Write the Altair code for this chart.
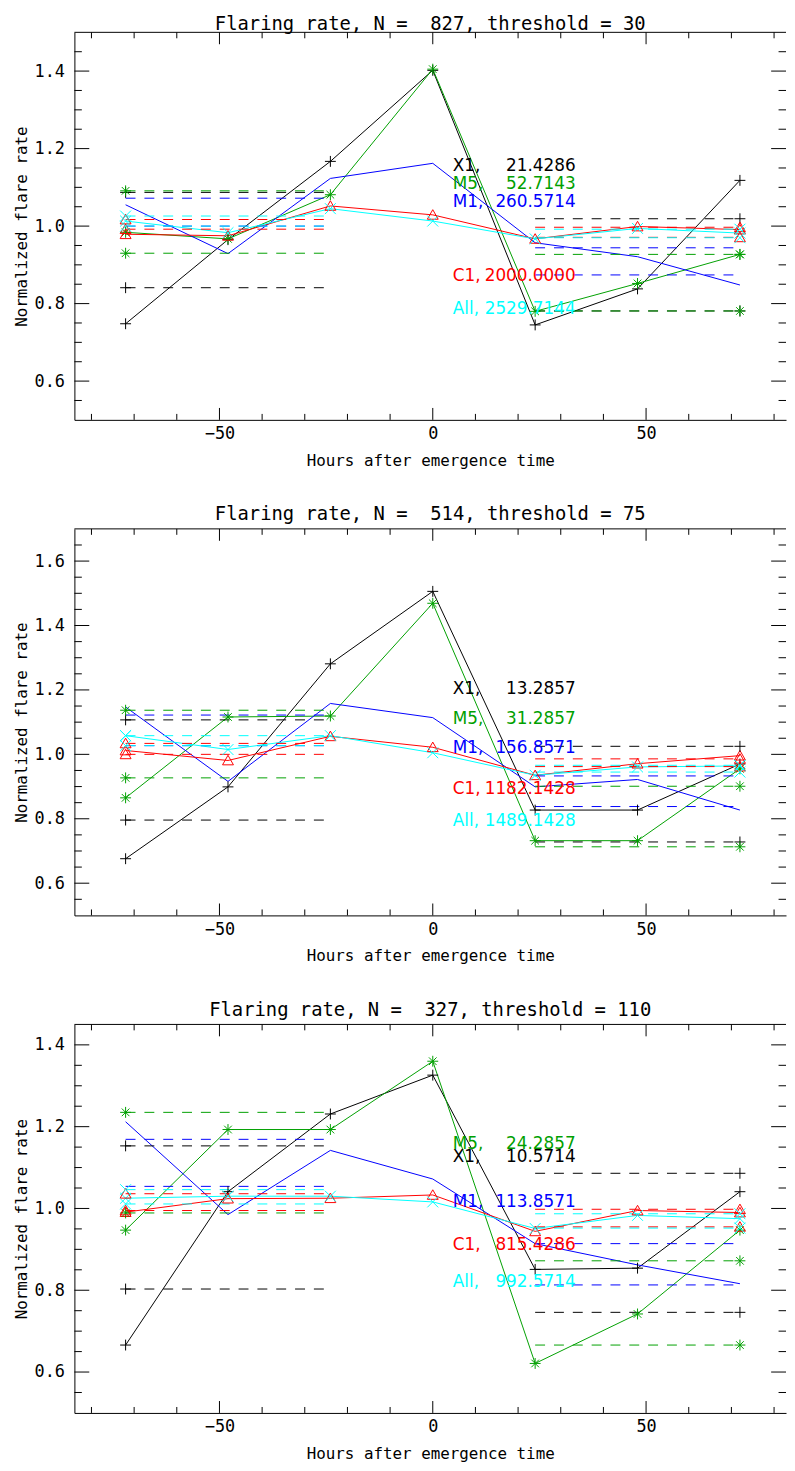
import altair as alt
import pandas as pd

# ---------------- data ----------------
hours = [-72, -48, -24, 0, 24, 48, 72]
series_names = ["X1", "M5", "M1", "C1", "All"]
series_colors = ["#000000", "#00a000", "#0000ff", "#ff0000", "#00ffff"]
label_names = ["X1,", "M5,", "M1,", "C1,", "All,"]
pre_span = [-72, -24]
post_span = [24, 72]

# Panel 1
p1_title = "Flaring rate, N =\u00a0\u00a0827, threshold = 30"
p1_X1 = [0.748, 0.965, 1.167, 1.402, 0.745, 0.838, 1.118]
p1_M5 = [0.984, 0.967, 1.081, 1.405, 0.780, 0.852, 0.927]
p1_M1 = [1.055, 0.929, 1.123, 1.162, 0.957, 0.921, 0.848]
p1_C1 = [0.979, 0.975, 1.052, 1.029, 0.967, 0.999, 0.991]
p1_All = [1.013, 0.983, 1.045, 1.013, 0.967, 0.994, 0.982]
p1_pre_lo = [0.841, 0.930, 1.000, 0.992, 1.000]
p1_pre_hi = [1.087, 1.091, 1.072, 1.017, 1.026]
p1_post_lo = [0.781, 0.781, 0.874, 0.971, 0.970]
p1_post_hi = [1.019, 0.927, 0.944, 0.997, 0.992]
p1_counts = [21.4286, 52.7143, 260.5714, 2000.0000, 2529.7144]
p1_label_y = [1.155, 1.108, 1.063, 0.872, 0.785]
p1_ydomain = [0.5, 1.5]
p1_ylabels = [0.6, 0.8, 1.0, 1.2, 1.4]
p1_yminor = [0.55, 0.65, 0.7, 0.75, 0.85, 0.9, 0.95, 1.05, 1.1, 1.15, 1.25, 1.3, 1.35, 1.45]

# Panel 2
p2_title = "Flaring rate, N =\u00a0\u00a0514, threshold = 75"
p2_X1 = [0.676, 0.899, 1.281, 1.506, 0.827, 0.827, 0.970]
p2_M5 = [0.865, 1.116, 1.119, 1.469, 0.732, 0.732, 0.955]
p2_M1 = [1.147, 0.916, 1.158, 1.114, 0.899, 0.922, 0.827]
p2_C1 = [1.012, 0.981, 1.056, 1.022, 0.935, 0.971, 0.996]
p2_All = [1.058, 1.015, 1.058, 1.005, 0.935, 0.961, 0.964]
p2_pre_lo = [0.796, 0.927, 1.027, 1.000, 1.027]
p2_pre_hi = [1.107, 1.137, 1.122, 1.034, 1.058]
p2_post_lo = [0.728, 0.713, 0.838, 0.962, 0.945]
p2_post_hi = [1.025, 0.901, 0.933, 0.986, 0.966]
p2_counts = [13.2857, 31.2857, 156.8571, 1182.1428, 1489.1428]
p2_label_y = [1.204, 1.111, 1.019, 0.892, 0.794]
p2_ydomain = [0.5, 1.7]
p2_ylabels = [0.6, 0.8, 1.0, 1.2, 1.4, 1.6]
p2_yminor = [0.55, 0.65, 0.7, 0.75, 0.85, 0.9, 0.95, 1.05, 1.1, 1.15, 1.25, 1.3,
             1.35, 1.45, 1.5, 1.55, 1.65]

# Panel 3
p3_title = "Flaring rate, N =\u00a0\u00a0327, threshold = 110"
p3_X1 = [0.666, 1.041, 1.231, 1.326, 0.851, 0.854, 1.041]
p3_M5 = [0.947, 1.193, 1.193, 1.360, 0.621, 0.742, 0.947]
p3_M1 = [1.212, 0.985, 1.142, 1.072, 0.914, 0.862, 0.816]
p3_C1 = [0.991, 1.024, 1.025, 1.033, 0.944, 0.995, 0.990]
p3_All = [1.025, 1.030, 1.030, 1.016, 0.951, 0.983, 0.975]
p3_pre_lo = [0.803, 0.989, 1.054, 0.995, 1.011]
p3_pre_hi = [1.153, 1.235, 1.169, 1.036, 1.046]
p3_post_lo = [0.746, 0.666, 0.813, 0.955, 0.952]
p3_post_hi = [1.086, 0.872, 0.914, 0.998, 0.987]
p3_counts = [10.5714, 24.2857, 113.8571, 815.4286, 992.5714]
p3_label_y = [1.125, 1.157, 1.016, 0.910, 0.820]
p3_ydomain = [0.5, 1.45]
p3_ylabels = [0.6, 0.8, 1.0, 1.2, 1.4]
p3_yminor = [0.55, 0.65, 0.7, 0.75, 0.85, 0.9, 0.95, 1.05, 1.1, 1.15, 1.25, 1.3, 1.35]

x_labels = [-50, 0, 50]
x_minor = [-80, -70, -60, -40, -30, -20, -10, 10, 20, 30, 40, 60, 70, 80]

# ---------------- style ----------------
W = 718
X_DOMAIN = [-84, 82.8]
MONO = "DejaVu Sans Mono"
SANS = "DejaVu Sans"
PLUS = "M-1,0L1,0M0,-1L0,1"
STAR = "M-1,0L1,0M0,-1L0,1M-0.7,-0.7L0.7,0.7M-0.7,0.7L0.7,-0.7"
TRI = "M-1,0.8L1,0.8L0,-0.95Z"
XSH = "M-1,-1L1,1M-1,1L1,-1"
marker_series = ["X1", "M5", "C1", "All"]
marker_paths = [PLUS, STAR, TRI, XSH]

color_enc = alt.Color("series:N", scale=alt.Scale(domain=series_names, range=series_colors), legend=None)
shape_enc = alt.Shape("series:N", scale=alt.Scale(domain=marker_series, range=marker_paths), legend=None)

x_axis = alt.Axis(values=x_labels, format="d", grid=False, ticks=False, tickSize=0,
                  labelPadding=6, titlePadding=11, domainColor="black")
X_TITLE = "Hours after emergence time"
Y_TITLE = "Normalized flare rate"


def panel(title, vals, pre_lo, pre_hi, post_lo, post_hi, counts, label_y,
          ydomain, ylabels, yminor, H, title_offset):
    xs = alt.Scale(domain=X_DOMAIN, nice=False, zero=False)
    ys = alt.Scale(domain=ydomain, nice=False, zero=False)
    y_axis = alt.Axis(values=ylabels, format=".1f", grid=False, ticks=False, tickSize=0,
                      labelPadding=10, titlePadding=5, domainColor="black")

    def X(f):
        return alt.X(f, type="quantitative", scale=xs, axis=x_axis, title=X_TITLE)

    def Y(f):
        return alt.Y(f, type="quantitative", scale=ys, axis=y_axis, title=Y_TITLE)

    rows = []
    for s, v in zip(series_names, vals):
        for h, val in zip(hours, v):
            rows.append({"series": s, "hour": h, "value": val})
    df = pd.DataFrame(rows)

    drows = []
    for i, s in enumerate(series_names):
        for lo_hi in (pre_lo[i], pre_hi[i]):
            drows.append({"series": s, "x0": pre_span[0], "x1": pre_span[1], "value": lo_hi, "xm": pre_span[0]})
        for lo_hi in (post_lo[i], post_hi[i]):
            drows.append({"series": s, "x0": post_span[0], "x1": post_span[1], "value": lo_hi, "xm": post_span[1]})
    dd = pd.DataFrame(drows)

    dl = pd.DataFrame({"series": series_names, "name": label_names, "count": counts, "ly": label_y})

    lines = alt.Chart(df).mark_line(strokeWidth=1).encode(
        x=X("hour"), y=Y("value"), color=color_enc, detail="series:N")
    pts = alt.Chart(df).transform_filter(alt.datum.series != "M1").mark_point(
        filled=False, strokeWidth=1, size=121, opacity=1).encode(
        x=X("hour"), y=Y("value"), color=color_enc, shape=shape_enc)
    dash = alt.Chart(dd).mark_rule(strokeDash=[10, 9], strokeWidth=1).encode(
        x=X("x0"), x2="x1", y=Y("value"), color=color_enc)
    dpts = alt.Chart(dd).transform_filter(alt.datum.series != "M1").mark_point(
        filled=False, strokeWidth=1, size=121, opacity=1).encode(
        x=X("xm"), y=Y("value"), color=color_enc, shape=shape_enc)
    names = alt.Chart(dl).mark_text(align="left", baseline="middle", font=SANS, fontSize=17).encode(
        x=alt.datum(4.7), y=Y("ly"), text="name:N", color=color_enc)
    nums = alt.Chart(dl).mark_text(align="right", baseline="middle", font=SANS, fontSize=17).encode(
        x=alt.datum(33.5), y=Y("ly"), text=alt.Text("count:Q", format=".4f"), color=color_enc)

    dxM = pd.DataFrame({"t": x_labels})
    dxm = pd.DataFrame({"t": x_minor})
    dyM = pd.DataFrame({"t": ylabels})
    dym = pd.DataFrame({"t": yminor})
    tk = dict(color="black", strokeWidth=1)
    ticks = [
        alt.Chart(dxM).mark_rule(**tk).encode(x=X("t"), y=alt.value(H), y2=alt.value(H - 12)),
        alt.Chart(dxM).mark_rule(**tk).encode(x=X("t"), y=alt.value(0), y2=alt.value(12)),
        alt.Chart(dxm).mark_rule(**tk).encode(x=X("t"), y=alt.value(H), y2=alt.value(H - 6)),
        alt.Chart(dxm).mark_rule(**tk).encode(x=X("t"), y=alt.value(0), y2=alt.value(6)),
        alt.Chart(dyM).mark_rule(**tk).encode(y=Y("t"), x=alt.value(0), x2=alt.value(15)),
        alt.Chart(dyM).mark_rule(**tk).encode(y=Y("t"), x=alt.value(W), x2=alt.value(W - 15)),
        alt.Chart(dym).mark_rule(**tk).encode(y=Y("t"), x=alt.value(0), x2=alt.value(7.5)),
        alt.Chart(dym).mark_rule(**tk).encode(y=Y("t"), x=alt.value(W), x2=alt.value(W - 7.5)),
        alt.Chart(pd.DataFrame({"a": [0]})).mark_rule(**tk).encode(
            x=alt.value(0), x2=alt.value(W), y=alt.value(0)),
    ]

    return alt.layer(lines, dash, pts, dpts, names, nums, *ticks).properties(
        width=W, height=H,
        title=alt.TitleParams(title, fontSize=19, font=MONO, fontWeight="normal",
                              anchor="middle", frame="group", offset=title_offset, color="black"))


p1 = panel(p1_title, [p1_X1, p1_M5, p1_M1, p1_C1, p1_All], p1_pre_lo, p1_pre_hi, p1_post_lo,
           p1_post_hi, p1_counts, p1_label_y, p1_ydomain, p1_ylabels, p1_yminor, 391, -2)
p2 = panel(p2_title, [p2_X1, p2_M5, p2_M1, p2_C1, p2_All], p2_pre_lo, p2_pre_hi, p2_post_lo,
           p2_post_hi, p2_counts, p2_label_y, p2_ydomain, p2_ylabels, p2_yminor, 390, 4)
p3 = panel(p3_title, [p3_X1, p3_M5, p3_M1, p3_C1, p3_All], p3_pre_lo, p3_pre_hi, p3_post_lo,
           p3_post_hi, p3_counts, p3_label_y, p3_ydomain, p3_ylabels, p3_yminor, 392, 4)

chart = alt.vconcat(p1, p2, p3, spacing=37).properties(
    padding={"left": 5, "top": 0, "right": 0, "bottom": 0}
).configure_view(stroke=None).configure_axis(
    labelFont=MONO, titleFont=MONO, labelFontSize=17, titleFontSize=16,
    titleFontWeight="normal", labelColor="black", titleColor="black",
    domainColor="black", domainWidth=1
)

chart.save("out.html", embed_options={"renderer": "svg", "actions": False})
